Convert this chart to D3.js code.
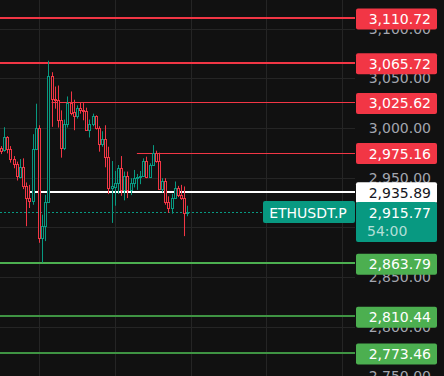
<!DOCTYPE html>
<html>
<head>
<meta charset="utf-8">
<style>
  body { margin: 0; background: #111111; }
  svg { display: block; font-family: "DejaVu Sans", sans-serif; }
</style>
</head>
<body>
<div id="chart"></div>
<script src="https://d3js.org/d3.v7.min.js"></script>
<script>
  // 1h candles, ETHUSDT.P
  const opens = [2979.4, 2977.7, 2990.4, 2978.7, 2968.4, 2963.4, 2951.1, 2961.1, 2941.7, 2929.4,
    2926.1, 2978.7, 3000.4, 2889.4, 2901.7, 2925.4, 3052.7, 3029.4, 3027.7, 3007.7,
    2979.4, 3003.7, 3025.1, 3016.1, 3011.7, 3020.4, 3018.4, 3016.7, 2998.4, 3003.7,
    3011.7, 3000.4, 2983.4, 2988.4, 2970.4, 2939.4, 2940.4, 2944.4, 2959.4, 2937.7,
    2951.7, 2937.7, 2944.4, 2950.1, 2951.1, 2951.7, 2966.7, 2950.4, 2962.7, 2975.1,
    2966.7, 2938.4, 2946.7, 2925.4, 2919.4, 2929.4, 2939.4, 2932.4, 2929.4, 2914.4];
  const highs = [2981.7, 3000.7, 2991.7, 2981.7, 2971.7, 2966.1, 2968.7, 2969.4, 2945.1, 2942.7,
    2993.7, 3024.4, 3002.7, 2912.7, 2932.7, 3067.7, 3056.1, 3041.7, 3042.7, 3017.7,
    3008.4, 3031.7, 3036.7, 3028.4, 3022.7, 3026.0, 3025.0, 3020.4, 3008.4, 3014.4,
    3012.7, 3001.7, 2996.7, 3002.7, 2981.1, 2966.7, 2956.7, 2962.7, 2971.7, 2956.1,
    2956.1, 2949.4, 2957.7, 2953.7, 2956.7, 2969.4, 2971.1, 2964.4, 2982.7, 2977.1,
    2975.1, 2949.4, 2949.4, 2931.1, 2933.7, 2946.1, 2941.7, 2942.7, 2941.1, 2921.7];
  const lows = [2973.7, 2976.1, 2974.4, 2965.1, 2959.4, 2947.1, 2949.4, 2938.4, 2901.1, 2919.4,
    2922.7, 2977.7, 2884.4, 2864.4, 2886.1, 2924.4, 3001.1, 3019.4, 3000.4, 2970.1,
    2977.7, 3000.4, 3012.7, 2997.7, 3009.4, 3014.4, 3007.7, 2997.7, 2990.4, 3001.7,
    2998.4, 2976.1, 2981.1, 2960.4, 2933.4, 2904.4, 2921.7, 2933.7, 2931.7, 2927.1,
    2929.4, 2932.4, 2940.1, 2937.7, 2943.4, 2951.1, 2949.4, 2950.1, 2961.7, 2965.1,
    2937.7, 2935.1, 2922.7, 2914.4, 2913.7, 2928.4, 2930.4, 2927.7, 2891.1, 2911.1];
  const closes = [2977.1, 2990.4, 2978.4, 2968.4, 2963.4, 2951.7, 2961.1, 2941.7, 2929.4, 2926.7,
    2978.7, 3000.4, 2889.4, 2901.7, 2925.4, 3052.7, 3029.4, 3027.7, 3007.7, 2979.4,
    3003.7, 3025.1, 3015.1, 3011.7, 3020.4, 3017.7, 3016.7, 2998.4, 3003.7, 3011.7,
    3000.4, 2983.4, 2988.4, 2970.4, 2939.4, 2941.1, 2944.4, 2959.4, 2937.7, 2951.7,
    2937.7, 2944.4, 2949.4, 2951.1, 2951.7, 2966.7, 2950.4, 2962.7, 2975.1, 2966.7,
    2938.4, 2946.7, 2925.4, 2919.4, 2929.4, 2939.4, 2932.4, 2929.4, 2914.4, 2915.77];

  // price axis ticks and day separators (candle index)
  const priceTicks = [3100, 3050, 3000, 2950, 2900, 2850, 2800, 2750];
  const dayBreaks = [12, 36, 60, 84, 108];

  // horizontal levels, with the candle each ray starts from (null = whole width)
  const resistanceLevels = [3110.72, 3065.72, 3025.62, 2975.16];
  const resistanceStart = [null, null, 16, 43];
  const supportLevels = [2863.79, 2810.44, 2773.46];
  const markLevel = 2935.89;
  const markStart = 9;
  const lastPrice = 2915.77;
  const countdown = '54:00';
  const symbol = 'ETHUSDT.P';

  const width = 444;
  const height = 376;
  const plotRight = 355;

  const RED = '#f23645';
  const GREEN = '#089981';
  const LEVEL_GREEN = '#4caf50';

  const x = d3.scaleLinear().domain([0, 108]).range([1, 342.3]);
  const y = d3.scaleLinear().domain([2750, 3100]).range([376.3, 28.6]);

  const fmt = d3.format(',.2f');

  const candles = opens.map((o, i) => ({ i, o, h: highs[i], l: lows[i], c: closes[i] }));

  const svg = d3.select('#chart')
    .append('svg')
    .attr('width', width)
    .attr('height', height);

  svg.append('rect')
    .attr('width', width)
    .attr('height', height)
    .attr('fill', '#111111');

  // grid
  svg.append('g')
    .selectAll('line')
    .data(priceTicks)
    .enter()
    .append('line')
    .attr('x1', 0)
    .attr('x2', plotRight)
    .attr('y1', (d) => Math.round(y(d)) + 0.5)
    .attr('y2', (d) => Math.round(y(d)) + 0.5)
    .attr('stroke', '#252525');

  svg.append('g')
    .selectAll('line')
    .data(dayBreaks)
    .enter()
    .append('line')
    .attr('x1', (d) => Math.round(x(d)) + 0.5)
    .attr('x2', (d) => Math.round(x(d)) + 0.5)
    .attr('y1', 0)
    .attr('y2', height)
    .attr('stroke', '#252525');

  // price axis tick labels
  svg.append('g')
    .selectAll('text')
    .data(priceTicks)
    .enter()
    .append('text')
    .attr('x', 431)
    .attr('y', (d) => y(d) + 5)
    .attr('text-anchor', 'end')
    .attr('font-size', 14)
    .attr('fill', '#a3a6af')
    .text(fmt);

  // level lines
  const levelLines = svg.append('g');

  resistanceLevels.forEach((p, k) => {
    const start = resistanceStart[k];
    levelLines.append('line')
      .attr('x1', start === null ? 0 : x(start))
      .attr('x2', plotRight)
      .attr('y1', start === null ? Math.round(y(p)) : Math.round(y(p)) + 0.5)
      .attr('y2', start === null ? Math.round(y(p)) : Math.round(y(p)) + 0.5)
      .attr('stroke', RED)
      .attr('stroke-width', start === null ? 2 : 1);
  });

  supportLevels.forEach((p, k) => {
    levelLines.append('line')
      .attr('x1', 0)
      .attr('x2', plotRight)
      .attr('y1', Math.round(y(p)))
      .attr('y2', Math.round(y(p)))
      .attr('stroke', k === 0 ? LEVEL_GREEN : '#3f9443')
      .attr('stroke-width', 2);
  });

  levelLines.append('line')
    .attr('x1', x(markStart))
    .attr('x2', plotRight)
    .attr('y1', Math.round(y(markLevel)))
    .attr('y2', Math.round(y(markLevel)))
    .attr('stroke', '#ffffff')
    .attr('stroke-width', 2);

  levelLines.append('line')
    .attr('x1', 0)
    .attr('x2', 262)
    .attr('y1', Math.round(y(lastPrice)) + 0.5)
    .attr('y2', Math.round(y(lastPrice)) + 0.5)
    .attr('stroke', GREEN)
    .attr('stroke-dasharray', '2,2');

  // candles (hollow bodies)
  const cg = svg.append('g');

  cg.selectAll('line')
    .data(candles)
    .enter()
    .append('line')
    .attr('x1', (d) => Math.round(x(d.i)) + 0.5)
    .attr('x2', (d) => Math.round(x(d.i)) + 0.5)
    .attr('y1', (d) => y(d.h))
    .attr('y2', (d) => y(d.l))
    .attr('stroke', (d) => (d.c >= d.o ? GREEN : RED));

  cg.selectAll('rect')
    .data(candles)
    .enter()
    .append('rect')
    .attr('x', (d) => Math.round(x(d.i)) - 0.5)
    .attr('width', 2)
    .attr('y', (d) => Math.round(y(Math.max(d.o, d.c))) + 0.5)
    .attr('height', (d) => Math.max(0, Math.round(y(Math.min(d.o, d.c))) - Math.round(y(Math.max(d.o, d.c)))))
    .attr('fill', '#111111')
    .attr('stroke', (d) => (d.c >= d.o ? GREEN : RED));

  // price labels on the axis
  const labels = svg.append('g').attr('font-size', 14);

  function priceLabel(p, fill, color) {
    labels.append('rect')
      .attr('x', 356)
      .attr('y', y(p) - 9.5)
      .attr('width', 81)
      .attr('height', 21)
      .attr('rx', 2)
      .attr('fill', fill);
    labels.append('text')
      .attr('x', 431)
      .attr('y', y(p) + 6)
      .attr('text-anchor', 'end')
      .attr('fill', color)
      .text(fmt(p));
  }

  resistanceLevels.forEach((p) => priceLabel(p, RED, '#ffffff'));
  supportLevels.forEach((p) => priceLabel(p, LEVEL_GREEN, '#ffffff'));
  priceLabel(markLevel, '#ffffff', '#131722');

  // last price with countdown
  labels.append('rect')
    .attr('x', 356)
    .attr('y', y(lastPrice) - 9.5)
    .attr('width', 81)
    .attr('height', 40)
    .attr('rx', 2)
    .attr('fill', GREEN);
  labels.append('text')
    .attr('x', 431)
    .attr('y', y(lastPrice) + 6)
    .attr('text-anchor', 'end')
    .attr('fill', '#ffffff')
    .text(fmt(lastPrice));
  labels.append('text')
    .attr('x', 367)
    .attr('y', y(lastPrice) + 24)
    .attr('fill', '#ffffff')
    .attr('fill-opacity', 0.7)
    .text(countdown);

  // symbol tag
  labels.append('rect')
    .attr('x', 263)
    .attr('y', y(lastPrice) - 10.5)
    .attr('width', 92)
    .attr('height', 22)
    .attr('rx', 2)
    .attr('fill', GREEN);
  labels.append('text')
    .attr('x', 308)
    .attr('y', y(lastPrice) + 6)
    .attr('text-anchor', 'middle')
    .attr('fill', '#ffffff')
    .text(symbol);
</script>
</body>
</html>
